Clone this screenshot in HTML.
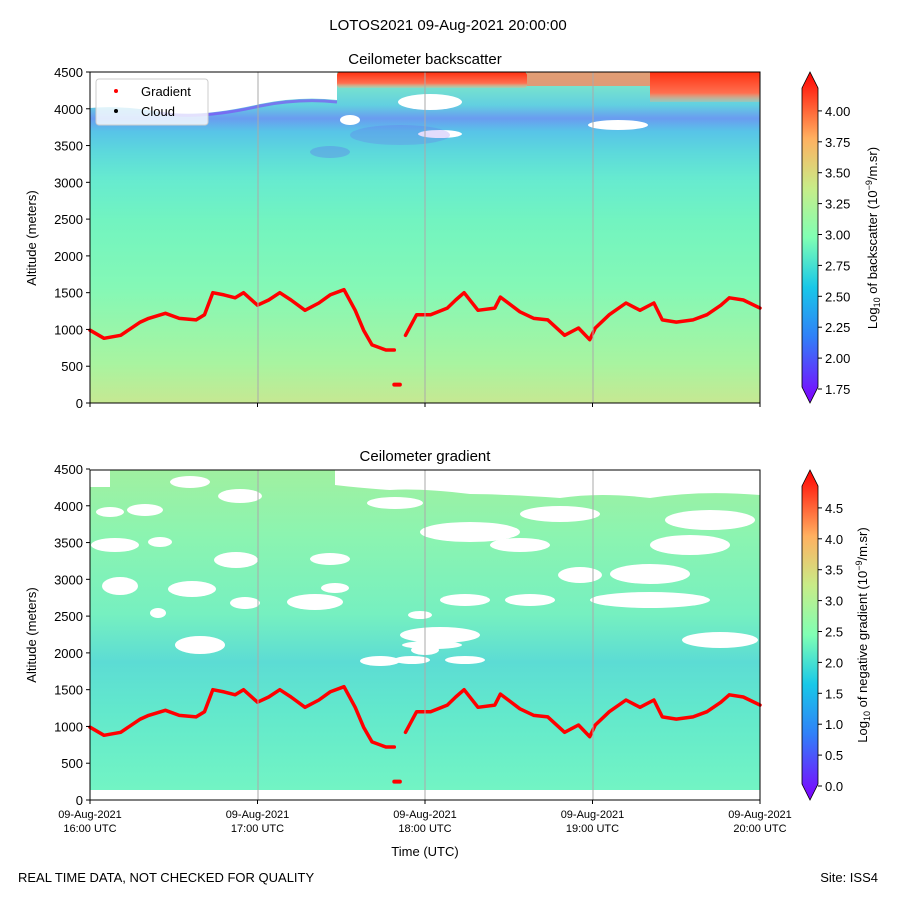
<!DOCTYPE html>
<html><head><meta charset="utf-8"><style>
body{margin:0;background:#fff;}
svg{display:block;font-family:"Liberation Sans",sans-serif;}
</style></head><body>
<svg width="900" height="900" viewBox="0 0 900 900" xmlns="http://www.w3.org/2000/svg">
<defs>
<linearGradient id="bgTop" x1="0" y1="1" x2="0" y2="0">
<stop offset="0" stop-color="#c6e892"/><stop offset="0.12" stop-color="#a8f4a0"/><stop offset="0.35" stop-color="#84f8b6"/><stop offset="0.55" stop-color="#72f4c0"/><stop offset="0.68" stop-color="#66ead0"/><stop offset="0.76" stop-color="#5cd8dc"/><stop offset="0.82" stop-color="#58c4e8"/><stop offset="0.86" stop-color="#6a9cf0"/><stop offset="0.9" stop-color="#62d0e0"/><stop offset="1" stop-color="#88f0c0"/>
</linearGradient>
<linearGradient id="bgBot" x1="0" y1="1" x2="0" y2="0">
<stop offset="0" stop-color="#72f4c4"/><stop offset="0.25" stop-color="#62e8cc"/><stop offset="0.4" stop-color="#5cdcd4"/><stop offset="0.55" stop-color="#76f0c0"/><stop offset="0.8" stop-color="#8cf4b0"/><stop offset="1" stop-color="#a0f0a0"/>
</linearGradient>
<linearGradient id="rainbow" x1="0" y1="1" x2="0" y2="0">
<stop offset="0" stop-color="#8000ff"/><stop offset="0.2" stop-color="#3080f8"/><stop offset="0.35" stop-color="#18c8e8"/><stop offset="0.5" stop-color="#80ffb4"/><stop offset="0.65" stop-color="#c8ec88"/><stop offset="0.8" stop-color="#ffb060"/><stop offset="1" stop-color="#ff0000"/>
</linearGradient>
<linearGradient id="topRed" x1="0" y1="0" x2="0" y2="1">
<stop offset="0" stop-color="#ff3010"/><stop offset="0.7" stop-color="#ff7050"/><stop offset="1" stop-color="#f8b080" stop-opacity="0.3"/>
</linearGradient>
</defs>
<text x="448" y="30" text-anchor="middle" font-size="15">LOTOS2021 09-Aug-2021 20:00:00</text>
<g id="top">
<text x="425" y="64" text-anchor="middle" font-size="15">Ceilometer backscatter</text>
<rect x="90" y="72" width="670" height="331" fill="url(#bgTop)"/>
<path d="M90,72 H337 V100 Q300,96 260,104 Q200,118 160,112 Q120,105 90,108Z" fill="#fff"/>
<path d="M160,113 Q200,120 260,106 Q300,98 337,102" stroke="#8040f8" stroke-width="3" fill="none" opacity="0.6"/>
<rect x="337" y="72" width="190" height="16" rx="3" fill="url(#topRed)"/>
<rect x="527" y="72" width="233" height="14" fill="#f88860" opacity="0.8"/>
<rect x="650" y="72" width="110" height="30" fill="url(#topRed)"/>
<ellipse cx="430" cy="102" rx="32" ry="8" fill="#fff"/><ellipse cx="618" cy="125" rx="30" ry="5" fill="#fff"/><ellipse cx="350" cy="120" rx="10" ry="5" fill="#fff"/><ellipse cx="440" cy="134" rx="22" ry="4" fill="#fff"/>
<ellipse cx="400" cy="135" rx="50" ry="10" fill="#7050f0" opacity="0.2"/><ellipse cx="330" cy="152" rx="20" ry="6" fill="#6060f0" opacity="0.3"/>
<g id="topLine"></g>
<line x1="258" y1="72" x2="258" y2="403" stroke="#aaa" stroke-width="1"/><line x1="425" y1="72" x2="425" y2="403" stroke="#aaa" stroke-width="1"/><line x1="593" y1="72" x2="593" y2="403" stroke="#aaa" stroke-width="1"/>
<rect x="90" y="72" width="670" height="331" fill="none" stroke="#000" stroke-width="1"/>
<g>
<rect x="96" y="79" width="112" height="46" rx="3" fill="#fff" fill-opacity="0.8" stroke="#ccc"/>
<circle cx="116" cy="91" r="2" fill="red"/><text x="141" y="96" font-size="13">Gradient</text>
<circle cx="116" cy="111" r="2" fill="#000"/><text x="141" y="116" font-size="13">Cloud</text>
</g>
<text transform="translate(36,238) rotate(-90)" text-anchor="middle" font-size="13">Altitude (meters)</text>
<g id="topYT" font-size="13" text-anchor="end"></g>
<g id="topXT"></g>
</g>
<g id="bot">
<text x="425" y="461" text-anchor="middle" font-size="15">Ceilometer gradient</text>
<rect x="90" y="470" width="670" height="320" fill="url(#bgBot)"/>
<g fill="#fff">
<path d="M90,470 H110 V487 H90Z"/><path d="M335,470 H760 V495 Q700,490 650,498 Q600,492 560,498 Q500,494 470,494 Q420,488 390,490 Q360,488 335,485Z"/>
<ellipse cx="190" cy="482" rx="20" ry="6"/><ellipse cx="240" cy="496" rx="22" ry="7"/><ellipse cx="145" cy="510" rx="18" ry="6"/><ellipse cx="110" cy="512" rx="14" ry="5"/>
<ellipse cx="395" cy="503" rx="28" ry="6"/><ellipse cx="470" cy="532" rx="50" ry="10"/><ellipse cx="560" cy="514" rx="40" ry="8"/><ellipse cx="710" cy="520" rx="45" ry="10"/><ellipse cx="690" cy="545" rx="40" ry="10"/>
<ellipse cx="115" cy="545" rx="24" ry="7"/><ellipse cx="160" cy="542" rx="12" ry="5"/><ellipse cx="236" cy="560" rx="22" ry="8"/><ellipse cx="520" cy="545" rx="30" ry="7"/><ellipse cx="650" cy="574" rx="40" ry="10"/><ellipse cx="580" cy="575" rx="22" ry="8"/>
<ellipse cx="120" cy="586" rx="18" ry="9"/><ellipse cx="192" cy="589" rx="24" ry="8"/><ellipse cx="315" cy="602" rx="28" ry="8"/><ellipse cx="650" cy="600" rx="60" ry="8"/><ellipse cx="245" cy="603" rx="15" ry="6"/>
<ellipse cx="330" cy="559" rx="20" ry="6"/><ellipse cx="158" cy="613" rx="8" ry="5"/><ellipse cx="335" cy="588" rx="14" ry="5"/><ellipse cx="440" cy="635" rx="40" ry="8"/><ellipse cx="200" cy="645" rx="25" ry="9"/><ellipse cx="412" cy="660" rx="18" ry="4"/><ellipse cx="432" cy="645" rx="30" ry="4"/><ellipse cx="425" cy="650" rx="14" ry="5"/><ellipse cx="420" cy="615" rx="12" ry="4"/><ellipse cx="720" cy="640" rx="38" ry="8"/><ellipse cx="465" cy="660" rx="20" ry="4"/><ellipse cx="380" cy="661" rx="20" ry="5"/><ellipse cx="465" cy="600" rx="25" ry="6"/><ellipse cx="530" cy="600" rx="25" ry="6"/>
</g>
<g id="botLine"></g>
<line x1="258" y1="470" x2="258" y2="800" stroke="#aaa" stroke-width="1"/><line x1="425" y1="470" x2="425" y2="800" stroke="#aaa" stroke-width="1"/><line x1="593" y1="470" x2="593" y2="800" stroke="#aaa" stroke-width="1"/>
<rect x="90" y="470" width="670" height="330" fill="none" stroke="#000" stroke-width="1"/>
<text transform="translate(36,635) rotate(-90)" text-anchor="middle" font-size="13">Altitude (meters)</text>
<g id="botYT" font-size="13" text-anchor="end"></g>
<g id="botXT"></g>
<text x="425" y="856" text-anchor="middle" font-size="13">Time (UTC)</text>
</g>
<g>
<path d="M802,88 L810,72 L818,88 V387 L810,403 L802,387Z" fill="url(#rainbow)" stroke="#000" stroke-width="0.8"/>
<g id="cb1" font-size="13"></g>
<text transform="translate(877,238) rotate(-90)" text-anchor="middle" font-size="13">Log<tspan font-size="9" dy="3">10</tspan><tspan dy="-3"> of backscatter (10</tspan><tspan font-size="9" dy="-5">−9</tspan><tspan dy="5">/m.sr)</tspan></text>
</g>
<g>
<path d="M802,486 L810,470 L818,486 V784 L810,800 L802,784Z" fill="url(#rainbow)" stroke="#000" stroke-width="0.8"/>
<g id="cb2" font-size="13"></g>
<text transform="translate(867,635) rotate(-90)" text-anchor="middle" font-size="13">Log<tspan font-size="9" dy="3">10</tspan><tspan dy="-3"> of negative gradient (10</tspan><tspan font-size="9" dy="-5">−9</tspan><tspan dy="5">/m.sr)</tspan></text>
</g>
<text x="18" y="882" font-size="13">REAL TIME DATA, NOT CHECKED FOR QUALITY</text>
<text x="878" y="882" text-anchor="end" font-size="13">Site: ISS4</text>
</svg>
<script>
const gradMinutes=[0,5,11,18,21,27,32,38,41,44,48,52,55,60,64,68,72,77,82,86,91,95,98,101,106,109,110,113,117,122,128,131,134,139,145,147,154,159,164,170,175,179,181,186,192,197,202,205,210,216,221,226,229,234,240];
const gradAlt=[990,880,920,1100,1150,1220,1150,1130,1200,1500,1470,1430,1500,1330,1400,1500,1400,1260,1360,1470,1540,1260,990,790,720,720,null,920,1200,1200,1290,1400,1500,1260,1290,1440,1240,1150,1130,920,1020,860,1020,1200,1360,1260,1360,1130,1100,1130,1200,1330,1430,1400,1290];
const lowMinutes=[109,111];
const lowAlt=[250,250];
const altTicks=[0,500,1000,1500,2000,2500,3000,3500,4000,4500];
const timeTicks=[0,60,120,180,240];
const timeLabels=["16:00 UTC","17:00 UTC","18:00 UTC","19:00 UTC","20:00 UTC"];
const cb1Ticks=["1.75","2.00","2.25","2.50","2.75","3.00","3.25","3.50","3.75","4.00"];
const cb2Ticks=["0.0","0.5","1.0","1.5","2.0","2.5","3.0","3.5","4.0","4.5"];
const NS="http://www.w3.org/2000/svg";
const xs=m=>90+m/240*670;
function ys(top){return a=>top+331-a/4500*331;}
function mk(t,attrs,parent){const e=document.createElementNS(NS,t);for(const k in attrs)e.setAttribute(k,attrs[k]);parent.appendChild(e);return e;}
function drawLine(g,top){
 const y=ys(top);let seg=[];const segs=[];
 gradMinutes.forEach((m,i)=>{const a=gradAlt[i];if(a==null){if(seg.length)segs.push(seg);seg=[];}else seg.push(xs(m).toFixed(1)+","+y(a).toFixed(1));});
 if(seg.length)segs.push(seg);
 segs.forEach(s=>{const p=mk('polyline',{points:s.join(' '),fill:'none',stroke:'#f00','stroke-width':3.5,'stroke-linejoin':'round','stroke-linecap':'round'},g);
 
 });
 const l=mk('polyline',{points:lowMinutes.map((m,i)=>xs(m)+","+y(lowAlt[i])).join(' '),fill:'none',stroke:'#f00','stroke-width':4,'stroke-linecap':'round'},g);
 
 
}
function drawY(g,top){const y=ys(top);altTicks.forEach(a=>{mk('line',{x1:86,x2:90,y1:y(a),y2:y(a),stroke:'#000'},g);const t=mk('text',{x:83,y:y(a)+5},g);t.textContent=a;
 
 });}
function drawX(g,base,labels){timeTicks.forEach((m,i)=>{mk('line',{x1:xs(m),x2:xs(m),y1:base,y2:base+4,stroke:'#000'},g);if(labels){const t1=mk('text',{x:xs(m),y:base+18,'text-anchor':'middle','font-size':11},g);t1.textContent="09-Aug-2021";
 
 
 const t2=mk('text',{x:xs(m),y:base+32,'text-anchor':'middle','font-size':11},g);t2.textContent=timeLabels[i];
 
 }});}
function drawCb(g,ticks,y0,step){ticks.forEach((s,i)=>{const y=y0-i*step;mk('line',{x1:818,x2:822,y1:y,y2:y,stroke:'#000'},g);const t=mk('text',{x:825,y:y+5},g);t.textContent=s;
 
 });}
drawLine(document.getElementById('topLine'),72);
drawLine(document.getElementById('botLine'),469);
drawY(document.getElementById('topYT'),72);
drawY(document.getElementById('botYT'),469);
drawX(document.getElementById('topXT'),403,false);
drawX(document.getElementById('botXT'),800,true);
drawCb(document.getElementById('cb1'),cb1Ticks,389,30.9);
drawCb(document.getElementById('cb2'),cb2Ticks,786,30.9);
</script>
</body></html>
